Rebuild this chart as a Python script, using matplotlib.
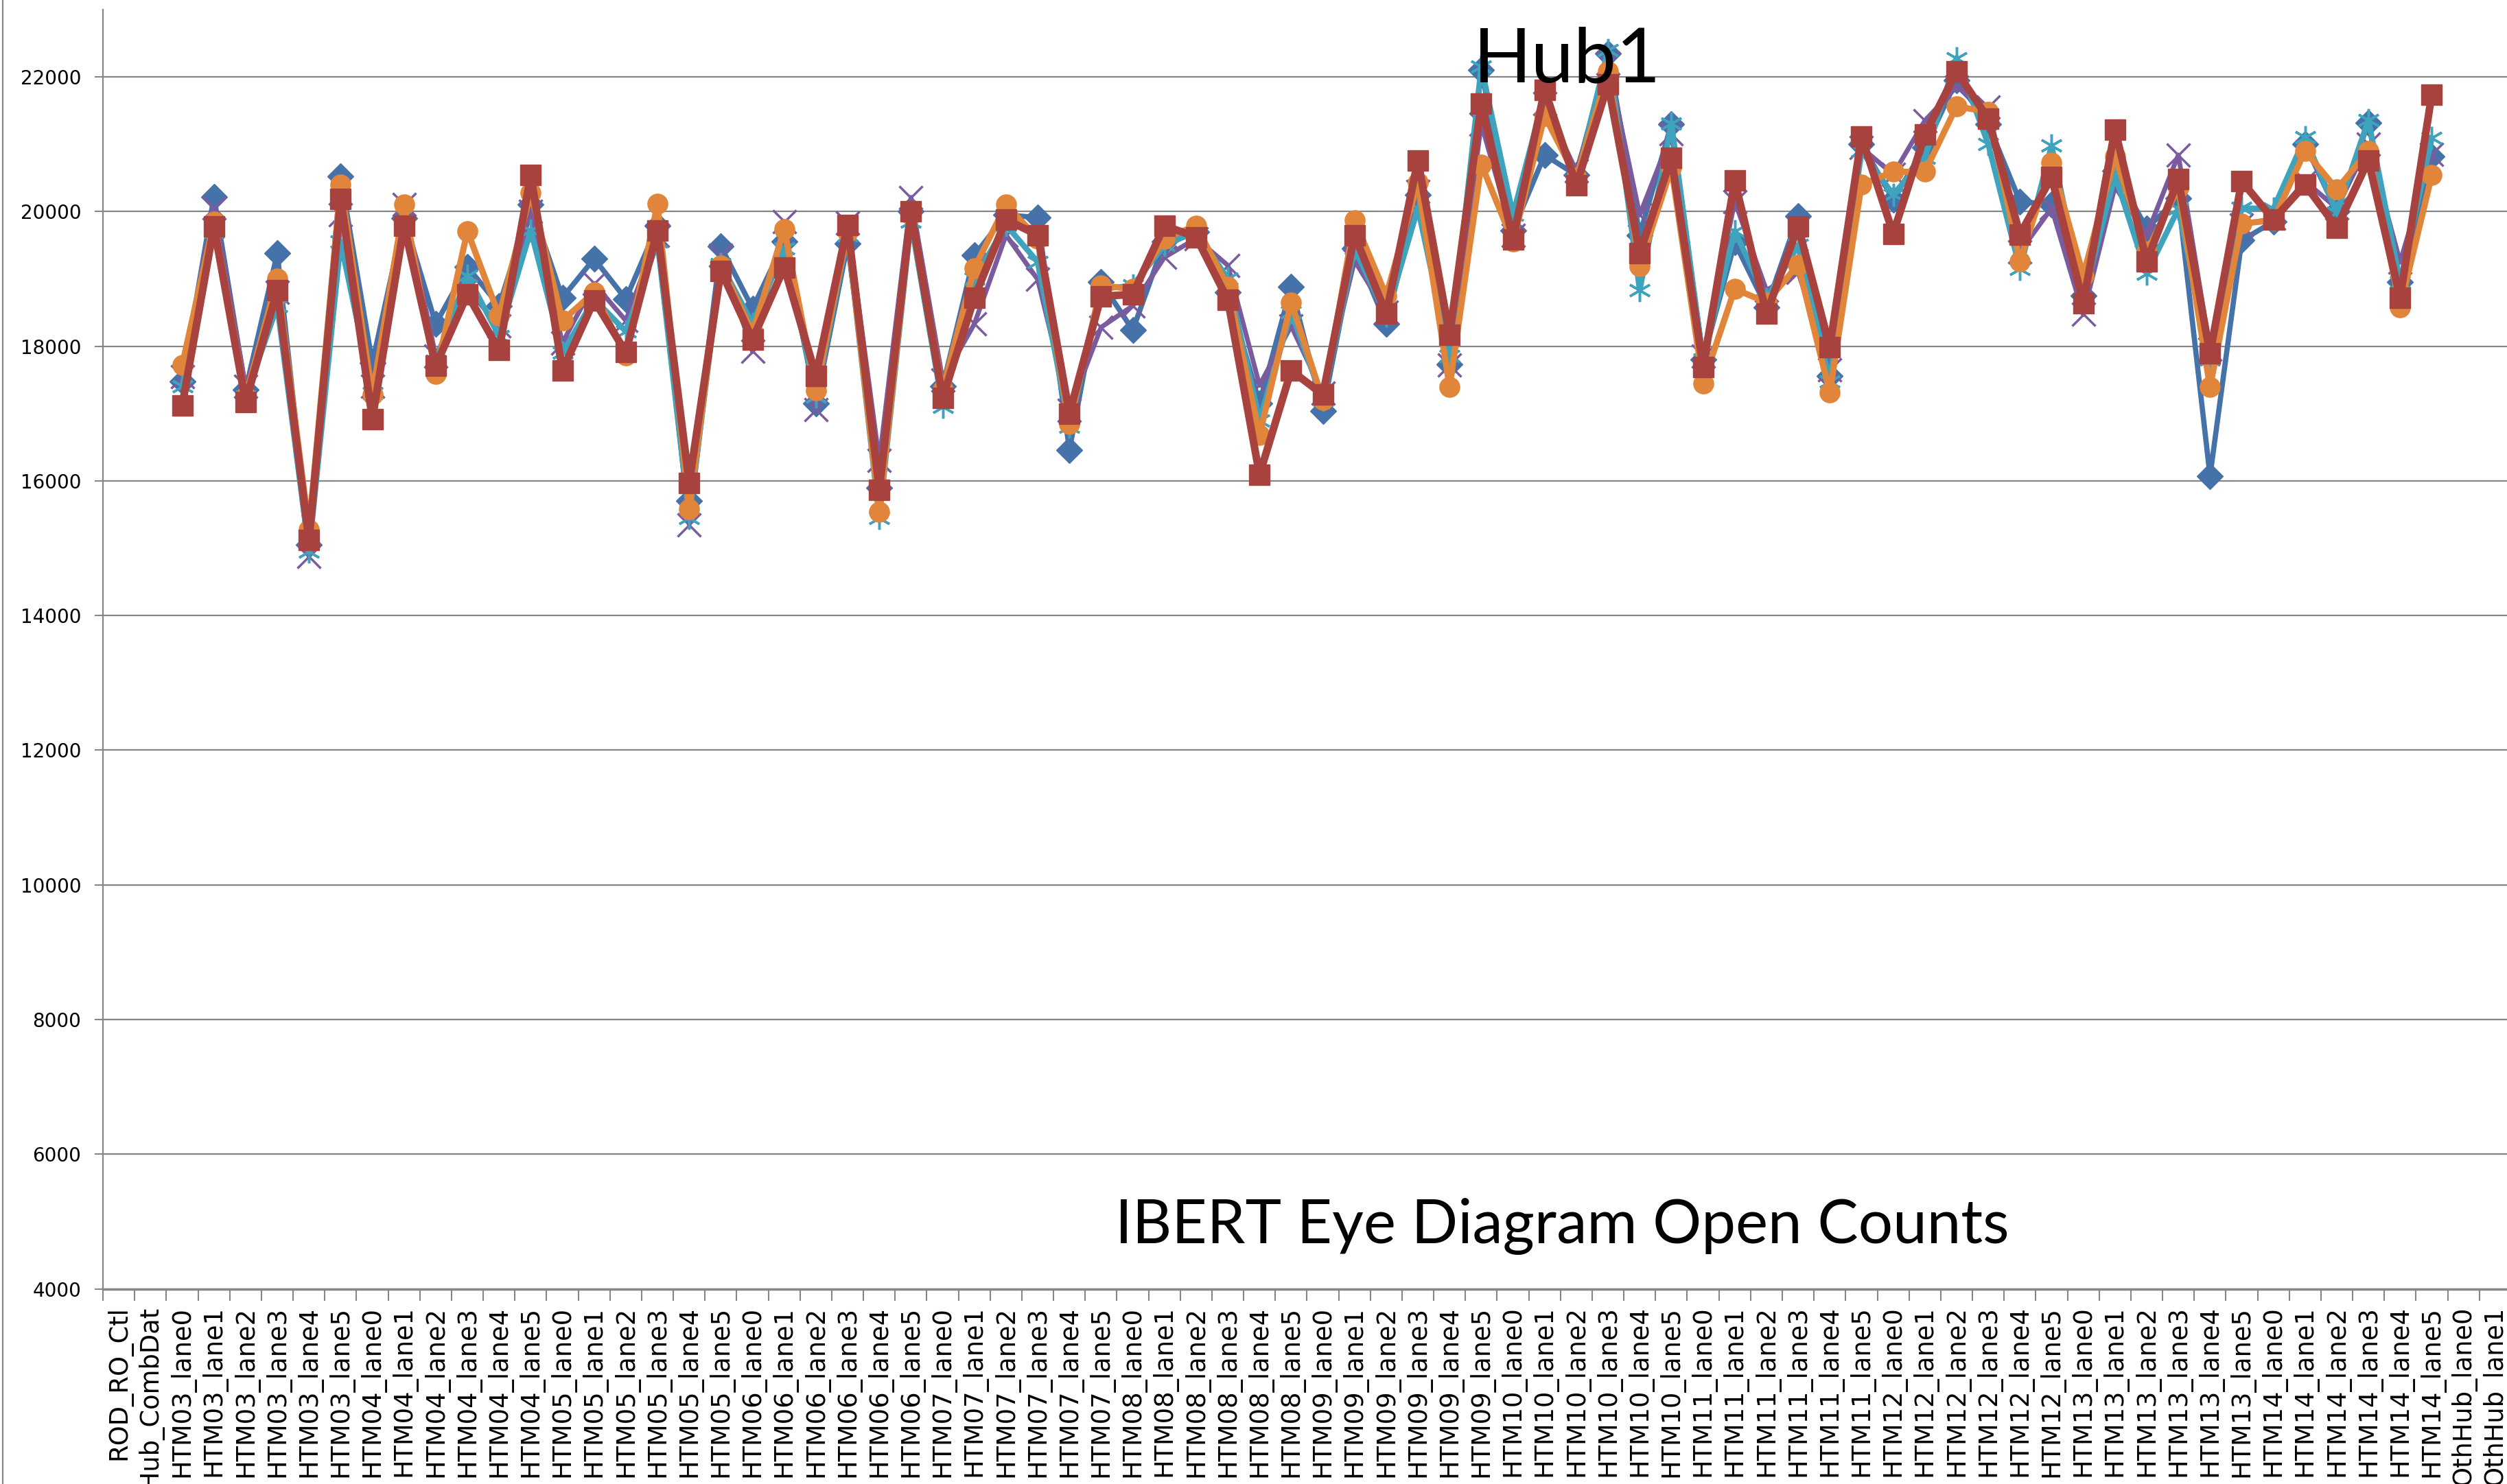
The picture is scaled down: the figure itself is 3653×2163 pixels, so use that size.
"""IBERT eye diagram open counts, Hub1"""
import numpy as np
import matplotlib
matplotlib.use("Agg")
import matplotlib.pyplot as plt

nan = np.nan

# categories: two hub rows, HTM03..HTM14 lanes 0..5, two more hub rows
categories = ["ROD_RO_Ctl", "OthHub_CombDat"]
for m in range(3, 15):
    for l in range(6):
        categories.append(f"HTM{m:02d}_lane{l}")
categories += ["OthHub_lane0", "OthHub_lane1"]

s_blue = [nan, nan,
    17480, 20220, 17350, 19380, 15050, 20520,
    17750, 19900, 18330, 19180, 18600, 20100,
    18720, 19300, 18700, 19790, 15700, 19480,
    18560, 19550, 17150, 19520, 15900, 20000,
    17400, 19350, 19950, 19910, 16460, 18950,
    18240, 19550, 19700, 18800, 17150, 18880,
    17040, 19450, 18330, 20250, 17730, 22100,
    19720, 20840, 20540, 22350, 19650, 21300,
    17800, 19540, 18580, 19930, 17560, 21000,
    20180, 20950, 21950, 21300, 20150, 20100,
    18750, 20600, 19750, 20200, 16070, 19570,
    19850, 21000, 20000, 21320, 18950, 20820,
    nan, nan]

s_purple = [nan, nan,
    17550, 20050, 17400, 18800, 14880, 19950,
    17400, 20100, 17850, 18850, 18300, 20000,
    18050, 18930, 18380, 19650, 15350, 19350,
    17920, 19850, 17060, 19830, 16300, 20210,
    17500, 18330, 19650, 18990, 17050, 18280,
    18600, 19320, 19600, 19200, 17420, 18300,
    17300, 19270, 18500, 20300, 17720, 21300,
    19650, 21600, 20600, 22200, 19950, 21150,
    17850, 20150, 18830, 19100, 17650, 20950,
    20550, 21350, 21850, 21550, 19400, 20050,
    18470, 20370, 19650, 20840, 17950, 19800,
    19900, 20450, 20050, 21000, 19250, 20850,
    nan, nan]

s_teal = [nan, nan,
    17400, 19700, 17250, 18600, 14950, 19550,
    17300, 19850, 17780, 19050, 18150, 19720,
    17900, 18700, 18220, 19550, 15450, 19220,
    18330, 19450, 17250, 19650, 15450, 19850,
    17100, 19000, 19800, 19250, 16800, 18850,
    18900, 19500, 19700, 19000, 16900, 18500,
    17200, 19450, 18450, 20050, 17850, 22150,
    19950, 21750, 20450, 22400, 18830, 21310,
    17800, 19710, 18700, 19500, 17480, 20900,
    20250, 20800, 22280, 21000, 19150, 20980,
    18700, 20540, 19080, 20040, 17800, 20050,
    20040, 21100, 19980, 21360, 18950, 21090,
    nan, nan]

s_orange = [nan, nan,
    17720, 19850, 17250, 19000, 15280, 20400,
    17280, 20100, 17590, 19710, 18450, 20280,
    18380, 18800, 17860, 20110, 15580, 19200,
    18200, 19740, 17340, 19700, 15540, 19950,
    17350, 19160, 20100, 19600, 16840, 18900,
    18850, 19600, 19790, 18880, 16680, 18650,
    17200, 19870, 18750, 20430, 17390, 20700,
    19550, 21420, 20500, 22080, 19190, 20650,
    17450, 18850, 18650, 19210, 17310, 20400,
    20590, 20590, 21560, 21480, 19260, 20730,
    19050, 20820, 19400, 20350, 17390, 19820,
    19870, 20900, 20330, 20900, 18580, 20540,
    nan, nan]

s_red = [nan, nan,
    17120, 19780, 17170, 18830, 15120, 20190,
    16920, 19790, 17710, 18770, 17940, 20540,
    17640, 18680, 17910, 19720, 15970, 19120,
    18100, 19170, 17560, 19800, 15870, 20000,
    17230, 18720, 19880, 19650, 17000, 18740,
    18770, 19790, 19620, 18690, 16090, 17640,
    17280, 19650, 18480, 20760, 18170, 21600,
    19590, 21810, 20390, 21890, 19380, 20800,
    17690, 20460, 18480, 19780, 17990, 21110,
    19670, 21140, 22080, 21380, 19660, 20510,
    18640, 21220, 19260, 20480, 17890, 20450,
    19880, 20400, 19760, 20760, 18720, 21740,
    nan, nan]

yticks = list(range(4000, 22001, 2000))

fig = plt.figure(figsize=(36.53, 21.63), dpi=100)
ax = fig.add_axes([0.0411, 0.1315, 0.9605, 0.8621])

x = np.arange(len(categories))
ax.plot(x, s_blue, "-D", color="#4672AA", lw=5.5, ms=19, zorder=3)
ax.plot(x, s_purple, "-x", color="#7A5C9E", lw=5, ms=24, mew=2.5, zorder=4)
ax.plot(x, s_teal, "-", marker=(6, 2, 0), color="#3FA3BD", lw=6, ms=24, mew=2.5, zorder=5)
ax.plot(x, s_orange, "-o", color="#E08539", mec="#E08539", lw=6.5, ms=21, zorder=6)
ax.plot(x, s_red, "-s", color="#A8423F", mec="#A8423F", lw=8, ms=21, zorder=7)

ax.set_xlim(-0.5, len(categories) - 0.5)
ax.set_ylim(4000, 23000)
ax.set_yticks(yticks)
ax.set_yticklabels([str(v) for v in yticks], family="DejaVu Sans", fontsize=20)
ax.tick_params(axis="y", length=9, width=1.5, color="#868686", pad=14)
ax.grid(axis="y", color="#868686", lw=1.6, zorder=1)

ax.set_xticks(x)
ax.set_xticklabels(categories, rotation=90, fontsize=26.5, family="DejaVu Sans")
ax.set_xticks(np.arange(-0.5, len(categories)), minor=True)
ax.tick_params(axis="x", which="major", length=0, pad=18)
ax.tick_params(axis="x", which="minor", length=12, width=1.5, color="#868686")

for side in ["top", "right"]:
    ax.spines[side].set_visible(False)
ax.spines["left"].set_color("#868686")
ax.spines["left"].set_linewidth(1.6)
ax.spines["bottom"].set_color("#868686")
ax.spines["bottom"].set_linewidth(2.5)

fig.text(0.625, 0.959, "Hub1", ha="center", va="center", fontsize=80, family="Lato")
fig.text(0.623, 0.1735, "IBERT Eye Diagram Open Counts", ha="center", va="center", fontsize=64, family="Lato")
fig.add_artist(plt.Line2D([0.0012, 0.0012], [0, 1], color="#868686", lw=1.6))

fig.savefig("out.png", dpi=100)
